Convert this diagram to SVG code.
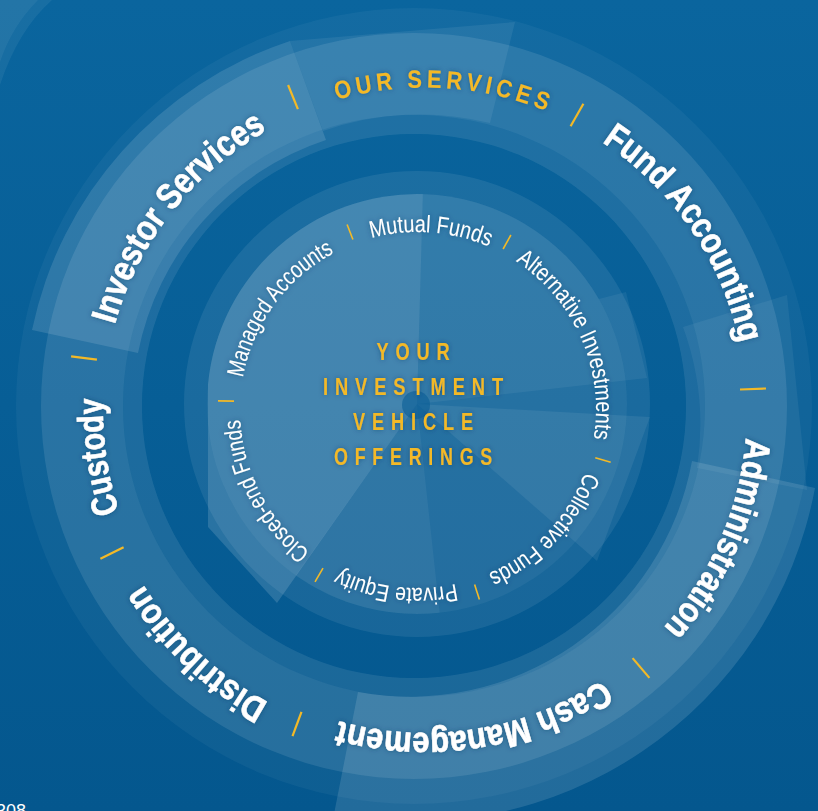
<svg xmlns="http://www.w3.org/2000/svg" width="818" height="811" viewBox="0 0 818 811">
<defs>
<linearGradient id="bg" x1="0" y1="0" x2="0" y2="1">
<stop offset="0" stop-color="#0a659e"/>
<stop offset="1" stop-color="#04578e"/>
</linearGradient>
<filter id="glow" x="-20%" y="-20%" width="140%" height="140%">
<feDropShadow dx="0" dy="0" stdDeviation="2.5" flood-color="#003560" flood-opacity="0.55"/>
</filter>
<path id="outerCircle" d="M746.56,394.15 A322,322 0 0 1 103.44,427.85 A322,322 0 0 1 746.56,394.15"/>
<path id="distCircle" d="M755.55,393.68 A331,331 0 0 1 94.45,428.32 A331,331 0 0 1 755.55,393.68"/>
<path id="ourCircle" d="M749.55,393.99 A325,325 0 0 1 100.45,428.01 A325,325 0 0 1 749.55,393.99"/>
<path id="innerCircle" d="M354.21,243.82 A178,178 0 0 1 481.79,576.18 A178,178 0 0 1 354.21,243.82"/>
<style>
.w{fill:#ffffff}
.svc{font-family:"Liberation Sans",Arial,sans-serif;font-weight:bold;font-size:36px;fill:#ffffff;stroke:#ffffff;stroke-width:0.6px;filter:url(#glow)}
.inn{font-family:"Liberation Sans",Arial,sans-serif;font-size:24px;fill:#ffffff;filter:url(#glow)}
.yel{font-family:"Liberation Sans",Arial,sans-serif;font-weight:bold;fill:#f3b927;filter:url(#glow)}
.sep{stroke:#f3b927;stroke-width:2.2;stroke-linecap:butt;fill:none}
.sepi{stroke:#f3b927;stroke-width:1.6;fill:none}
</style>
</defs>

<rect width="818" height="811" fill="url(#bg)"/>

<g id="corner-arcs">
<path d="M0,0 L52,0 Q18,30 0,85 Z" class="w" fill-opacity="0.06"/>
<path d="M0,0 L38,0 Q12,26 0,62 Z" class="w" fill-opacity="0.05"/>
</g>

<g id="outer-ring">
<path fill-rule="evenodd" class="w" fill-opacity="0.045" d="M16,406 a398,398 0 1 0 796,0 a398,398 0 1 0 -796,0 Z M142,406 a272,272 0 1 0 544,0 a272,272 0 1 0 -544,0 Z"/>
<path fill-rule="evenodd" class="w" fill-opacity="0.10" d="M41,406 a373,373 0 1 0 746,0 a373,373 0 1 0 -746,0 Z M123,406 a291,291 0 1 0 582,0 a291,291 0 1 0 -582,0 Z"/>
<path fill-rule="evenodd" class="w" fill-opacity="0.05" d="M123,406 a291,291 0 1 0 582,0 a291,291 0 1 0 -582,0 Z M142,406 a272,272 0 1 0 544,0 a272,272 0 1 0 -544,0 Z"/>
</g>

<g id="segment-boxes">
<path id="box-investor" class="w" fill-opacity="0.12" d="M32,330 L138,353 A281,281 0 0 1 326,140 L290,41 A387,387 0 0 0 32,330 Z"/>
<path id="box-our" class="w" fill-opacity="0.07" d="M290,41 L515,22 L490,123 A291,291 0 0 0 323,131 Z"/>
<path id="box-fund-admin" class="w" fill-opacity="0.06" d="M683,327 L787,295 L807,490 L697,468 A285,285 0 0 0 683,327 Z"/>
<path id="box-admin-cash" class="w" fill-opacity="0.12" d="M692,461 L815,488 A409,409 0 0 1 334,814 L358,692 A287,287 0 0 0 692,461 Z"/>
</g>

<g id="inner-circle">
<path fill-rule="evenodd" class="w" fill-opacity="0.08" d="M184,404 a233,233 0 1 0 466,0 a233,233 0 1 0 -466,0 Z M207,404 a210,210 0 1 0 420,0 a210,210 0 1 0 -420,0 Z"/>
<circle cx="417" cy="404" r="210" class="w" fill-opacity="0.12"/>
<path id="slice-left" class="w" fill-opacity="0.14" d="M417,404 L277,603 L208,527 L208,384 A210,210 0 0 1 422.9,194.1 Z"/>
<path id="slice-topright" class="w" fill-opacity="0.06" d="M417,404 L422.9,194.1 A210,210 0 0 1 598.9,299 L626,292 L647,378 Z"/>
<path id="slice-right" class="w" fill-opacity="0.07" d="M417,404 L650,417 L597,561 Z"/>
<path id="slice-bottom" class="w" fill-opacity="0.05" d="M417,404 L439.7,612.8 A210,210 0 0 1 295.6,575.4 Z"/>
<circle cx="416" cy="405" r="14" fill="#0a5d96" fill-opacity="0.6"/>
</g>

<g id="connectors">
<line class="sep" x1="288.1" y1="85" x2="297.9" y2="109.1"/>
<line class="sep" x1="583.4" y1="103.7" x2="570.6" y2="126.3"/>
<line class="sep" x1="766" y1="388.5" x2="740" y2="389.5"/>
<line class="sep" x1="649.4" y1="677.9" x2="632.6" y2="658.1"/>
<line class="sep" x1="292.5" y1="736.2" x2="301.5" y2="711.8"/>
<line class="sep" x1="100.4" y1="558.8" x2="123.6" y2="547.2"/>
<line class="sep" x1="71.1" y1="356.3" x2="96.9" y2="359.7"/>
<line class="sepi" x1="347.1" y1="224.5" x2="352.9" y2="239.5"/>
<line class="sepi" x1="510.9" y1="235" x2="503.1" y2="249"/>
<line class="sepi" x1="610.7" y1="462.3" x2="595.3" y2="457.7"/>
<line class="sepi" x1="479.4" y1="599.6" x2="474.6" y2="584.4"/>
<line class="sepi" x1="315" y1="581.9" x2="323" y2="568.1"/>
<line class="sepi" x1="218" y1="400.9" x2="234" y2="401.1"/>
</g>

<g id="title-our-services">
<text class="yel" font-size="25" letter-spacing="5" text-anchor="middle"><textPath href="#ourCircle" startOffset="1562" textLength="218" lengthAdjust="spacingAndGlyphs">OUR  SERVICES</textPath></text>
</g>
<g id="svc-fund-accounting"><text class="svc" text-anchor="middle"><textPath href="#outerCircle" startOffset="1846" textLength="250" lengthAdjust="spacingAndGlyphs">Fund Accounting</textPath></text></g>
<g id="svc-administration"><text class="svc" text-anchor="middle"><textPath href="#outerCircle" startOffset="149" textLength="210" lengthAdjust="spacingAndGlyphs">Administration</textPath></text></g>
<g id="svc-cash-management"><text class="svc" text-anchor="middle"><textPath href="#outerCircle" startOffset="472" textLength="275" lengthAdjust="spacingAndGlyphs">Cash Management</textPath></text></g>
<g id="svc-distribution"><text class="svc" text-anchor="middle"><textPath href="#distCircle" startOffset="787" textLength="174" lengthAdjust="spacingAndGlyphs">Distribution</textPath></text></g>
<g id="svc-custody"><text class="svc" text-anchor="middle"><textPath href="#outerCircle" startOffset="983" textLength="115" lengthAdjust="spacingAndGlyphs">Custody</textPath></text></g>
<g id="svc-investor-services"><text class="svc" text-anchor="middle"><textPath href="#outerCircle" startOffset="1242" textLength="253" lengthAdjust="spacingAndGlyphs">Investor Services</textPath></text></g>

<g id="inv-mutual-funds"><text class="inn" text-anchor="middle"><textPath href="#innerCircle" startOffset="78" textLength="120" lengthAdjust="spacingAndGlyphs">Mutual Funds</textPath></text></g>
<g id="inv-alternative"><text class="inn" text-anchor="middle"><textPath href="#innerCircle" startOffset="271" textLength="205" lengthAdjust="spacingAndGlyphs">Alternative Investments</textPath></text></g>
<g id="inv-collective"><text class="inn" text-anchor="middle"><textPath href="#innerCircle" startOffset="480" textLength="144" lengthAdjust="spacingAndGlyphs">Collective Funds</textPath></text></g>
<g id="inv-private-equity"><text class="inn" text-anchor="middle"><textPath href="#innerCircle" startOffset="646" textLength="120" lengthAdjust="spacingAndGlyphs">Private Equity</textPath></text></g>
<g id="inv-closed-end"><text class="inn" text-anchor="middle"><textPath href="#innerCircle" startOffset="817" textLength="154" lengthAdjust="spacingAndGlyphs">Closed-end Funds</textPath></text></g>
<g id="inv-managed"><text class="inn" text-anchor="middle"><textPath href="#innerCircle" startOffset="1016" textLength="160" lengthAdjust="spacingAndGlyphs">Managed Accounts</textPath></text></g>

<g id="center-title" class="yel" font-size="24" letter-spacing="9" text-anchor="middle">
<text x="416.5" y="360" textLength="80" lengthAdjust="spacingAndGlyphs">YOUR</text>
<text x="416.5" y="395" textLength="187" lengthAdjust="spacingAndGlyphs">INVESTMENT</text>
<text x="416.5" y="430" textLength="127" lengthAdjust="spacingAndGlyphs">VEHICLE</text>
<text x="416.5" y="465" textLength="165" lengthAdjust="spacingAndGlyphs">OFFERINGS</text>
</g>

<text x="-4" y="817" font-family="Liberation Sans, Arial, sans-serif" font-size="18" fill="#ffffff">308</text>
</svg>
